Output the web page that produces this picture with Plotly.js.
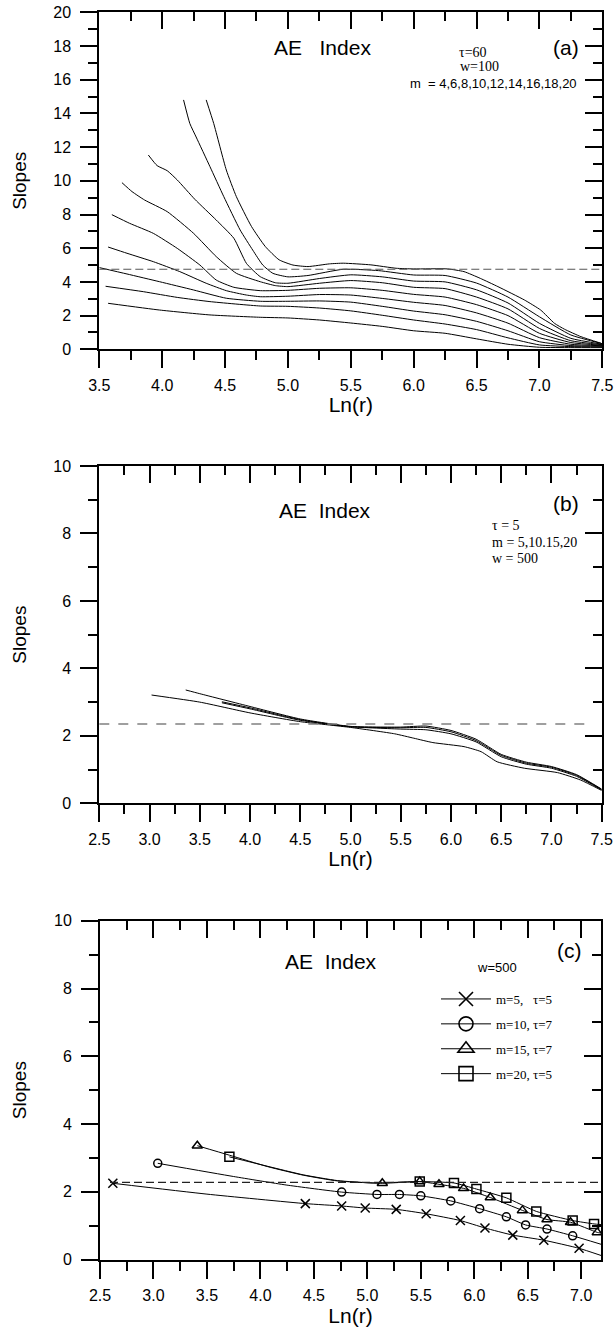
<!DOCTYPE html>
<html><head><meta charset="utf-8">
<script src="https://cdn.plot.ly/plotly-3.0.1.min.js"></script>
<style>html,body{margin:0;padding:0;background:#fff}#chart{width:614px;height:1331px}</style>
</head><body><div id="chart"></div>
<script>
// ---------- Panel (a): AE Index, tau=60, w=100 ----------
const a_m4_x  = [3.57,3.98,4.38,4.78,5.0,5.25,5.5,5.75,6.0,6.25,6.5,6.75,7.0,7.25,7.5];
const a_m4_y  = [2.73,2.33,2.04,1.90,1.86,1.74,1.56,1.36,1.10,0.95,0.62,0.30,0.12,0.10,0.10];
const a_m6_x  = [3.55,3.85,4.12,4.38,4.78,5.0,5.25,5.5,5.75,6.0,6.25,6.5,6.75,7.0,7.25,7.5];
const a_m6_y  = [3.74,3.42,3.08,2.83,2.57,2.55,2.45,2.28,2.02,1.74,1.50,1.17,0.68,0.26,0.16,0.14];
const a_m8_x  = [3.5,3.72,3.98,4.25,4.51,4.78,5.0,5.25,5.5,5.75,6.0,6.25,6.5,6.75,7.0,7.25,7.5];
const a_m8_y  = [4.85,4.47,4.01,3.52,3.03,2.85,2.85,2.87,2.80,2.55,2.27,2.05,1.66,1.10,0.45,0.22,0.18];
const a_m10_x = [3.57,3.72,3.93,4.14,4.35,4.51,4.67,4.78,5.0,5.25,5.5,5.75,6.0,6.25,6.5,6.75,7.0,7.25,7.5];
const a_m10_y = [6.07,5.70,5.20,4.61,3.92,3.48,3.22,3.12,3.15,3.25,3.22,3.02,2.79,2.60,2.16,1.55,0.69,0.30,0.21];
const a_m12_x = [3.6,3.74,3.93,4.12,4.3,4.43,4.57,4.78,5.0,5.25,5.5,5.75,6.0,6.25,6.5,6.75,7.0,7.25,7.5];
const a_m12_y = [7.99,7.48,6.88,5.99,5.00,4.11,3.68,3.48,3.50,3.62,3.65,3.50,3.26,3.10,2.65,2.00,0.95,0.40,0.24];
const a_m14_x = [3.68,3.76,3.86,4.04,4.25,4.43,4.59,4.78,4.9,5.0,5.25,5.5,5.75,6.0,6.25,6.5,6.75,7.0,7.25,7.5];
const a_m14_y = [9.89,9.36,8.86,8.17,6.88,5.50,4.51,4.01,3.78,3.72,3.92,4.08,3.95,3.68,3.60,3.10,2.40,1.24,0.51,0.27];
const a_m16_x = [3.89,3.96,4.04,4.12,4.26,4.43,4.57,4.67,4.78,4.9,5.0,5.25,5.5,5.75,6.0,6.25,6.5,6.75,7.0,7.25,7.5];
const a_m16_y = [11.53,10.9,10.6,10.05,8.9,7.67,6.59,5.10,4.31,3.95,3.92,4.20,4.42,4.30,4.05,4.00,3.53,2.75,1.54,0.65,0.30];
const a_m18_x = [4.17,4.22,4.27,4.38,4.49,4.62,4.72,4.8,4.88,5.0,5.16,5.44,5.72,6.0,6.25,6.5,6.75,7.0,7.25,7.5];
const a_m18_y = [14.8,13.4,12.6,10.84,9.06,7.08,5.89,5.00,4.51,4.30,4.38,4.75,4.67,4.41,4.38,3.93,3.10,1.93,0.85,0.33];
const a_m20_x = [4.35,4.41,4.51,4.59,4.71,4.82,4.93,5.04,5.16,5.33,5.44,5.66,5.86,6.0,6.27,6.4,6.53,6.67,6.88,7.01,7.12,7.2,7.33,7.49];
const a_m20_y = [14.8,13.4,10.64,9.06,7.29,6.10,5.31,5.00,4.91,5.07,5.11,5.01,4.81,4.77,4.77,4.61,4.21,3.72,2.93,2.33,1.54,1.19,0.75,0.36];
const a_ref = 4.75;

// ---------- Panel (b): AE Index, tau=5, w=500 ----------
const b_m5_x  = [3.02,3.5,4.0,4.5,5.0,5.44,5.63,5.82,6.13,6.3,6.46,6.73,7.06,7.29,7.5];
const b_m5_y  = [3.21,3.00,2.68,2.42,2.25,2.06,1.93,1.80,1.68,1.53,1.23,1.04,0.91,0.69,0.38];
const b_m10_x = [3.72,4.0,4.5,5.0,5.5,5.75,6.0,6.25,6.5,6.75,7.0,7.25,7.5];
const b_m10_y = [2.98,2.80,2.46,2.27,2.20,2.18,2.06,1.82,1.38,1.16,1.04,0.80,0.40];
const b_m15_x = [3.72,4.0,4.5,5.0,5.5,5.75,6.0,6.25,6.5,6.75,7.0,7.25,7.5];
const b_m15_y = [3.01,2.83,2.48,2.27,2.24,2.25,2.12,1.86,1.42,1.19,1.07,0.83,0.41];
const b_m20_x = [3.36,3.5,4.0,4.5,5.0,5.5,5.75,6.0,6.25,6.5,6.75,7.0,7.25,7.5];
const b_m20_y = [3.36,3.25,2.87,2.50,2.28,2.26,2.29,2.16,1.90,1.45,1.22,1.09,0.85,0.42];
const b_ref = 2.35;

// ---------- Panel (c): AE Index, w=500 (markers) ----------
const c_m5_x  = [2.62,4.42,4.76,4.98,5.27,5.55,5.87,6.1,6.36,6.65,6.98];
const c_m5_y  = [2.25,1.65,1.58,1.52,1.48,1.35,1.15,0.93,0.72,0.57,0.33];
const c_m10_x = [3.04,4.76,5.09,5.3,5.5,5.78,6.05,6.3,6.48,6.68,6.92];
const c_m10_y = [2.84,1.99,1.92,1.92,1.88,1.73,1.50,1.26,1.02,0.90,0.70];
const c_m15_x = [3.41,5.14,5.49,5.67,5.9,6.15,6.45,6.68,6.9,7.15];
const c_m15_y = [3.36,2.25,2.30,2.22,2.10,1.83,1.45,1.18,1.10,0.80];
const c_m20_x = [3.71,5.49,5.81,6.02,6.3,6.58,6.92,7.12];
const c_m20_y = [3.03,2.30,2.26,2.08,1.82,1.42,1.15,1.05];
// fitted curves drawn through the markers
const c_m5_lx  = [2.62,3.5,4.42,4.76,4.98,5.27,5.55,5.87,6.1,6.36,6.65,6.98,7.185];
const c_m5_ly  = [2.25,1.93,1.65,1.58,1.52,1.48,1.35,1.15,0.93,0.72,0.57,0.33,0.12];
const c_m10_lx = [3.04,3.75,4.24,4.76,5.09,5.3,5.5,5.78,6.05,6.3,6.48,6.68,6.92,7.185];
const c_m10_ly = [2.84,2.45,2.20,1.99,1.92,1.92,1.88,1.73,1.50,1.26,1.02,0.90,0.70,0.45];
const c_m15_lx = [3.41,3.71,4.07,4.4,4.72,5.14,5.49,5.67,5.9,6.15,6.45,6.68,6.9,7.15,7.185];
const c_m15_ly = [3.36,3.08,2.74,2.49,2.32,2.25,2.30,2.22,2.10,1.83,1.45,1.18,1.10,0.80,0.78];
const c_m20_lx = [3.71,4.07,4.4,4.72,5.05,5.49,5.81,6.02,6.3,6.58,6.92,7.12,7.185];
const c_m20_ly = [3.03,2.75,2.50,2.33,2.26,2.30,2.26,2.08,1.82,1.42,1.15,1.05,1.03];
const c_ref = 2.28;
const c_names = ['m=5,\u00a0\u00a0 \u03c4=5','m=10, \u03c4=7','m=15, \u03c4=7','m=20, \u03c4=5'];
const c_symbols = ['x-thin-open','circle-open','triangle-up-open','square-open'];

// ---------- layout helpers ----------
const W = 614, H = 1331;
const SANS = 'Liberation Sans, Arial, sans-serif';
const SERIF = 'Liberation Serif, Times New Roman, serif';
const xd = (l, r) => [l / W, r / W];
const yd = (t, b) => [1 - b / H, 1 - t / H];
const base = {showline:true, linewidth:2, linecolor:'#000', ticklen:17, tickwidth:2, tickcolor:'#000',
  showgrid:false, zeroline:false, fixedrange:true, tickfont:{family:SANS, size:16, color:'#000'}};

function xBottom(domain, range, anchor) {
  return Object.assign({}, base, {domain, range, anchor, side:'bottom', ticks:'outside',
    tick0:2.5, dtick:0.5, tickformat:'.1f', ticklabelstandoff:3,
    minor:{dtick:0.25, ticks:'outside', ticklen:9, tickwidth:2, tickcolor:'#000'},
    title:{text:'Ln(r)', font:{family:SANS, size:21, color:'#000'}, standoff:3}});
}
function xTop(over, range, anchor) {
  return Object.assign({}, base, {overlaying:over, range, anchor, side:'top', ticks:'inside',
    tick0:2.5, dtick:0.5, showticklabels:false,
    minor:{dtick:0.25, ticks:'inside', ticklen:9, tickwidth:2, tickcolor:'#000'}});
}
function yLeft(domain, range, anchor, dtick) {
  return Object.assign({}, base, {domain, range, anchor, side:'left', ticks:'outside',
    tick0:0, dtick:dtick, ticklabelstandoff:6,
    minor:{dtick:dtick/2, ticks:'outside', ticklen:9, tickwidth:2, tickcolor:'#000'},
    title:{text:'Slopes', font:{family:SANS, size:19, color:'#000'}, standoff:22}});
}
function yRight(over, range, anchor, dtick) {
  return Object.assign({}, base, {overlaying:over, range, anchor, side:'right', ticks:'inside',
    tick0:0, dtick:dtick, showticklabels:false,
    minor:{dtick:dtick/2, ticks:'inside', ticklen:9, tickwidth:2, tickcolor:'#000'}});
}

const traces = [];
function curve(x, y, xa, ya) {
  traces.push({x, y, xaxis:xa, yaxis:ya, mode:'lines', showlegend:false, hoverinfo:'skip',
    line:{color:'#000', width:1, shape:'spline', smoothing:0.5}});
}
[[a_m4_x,a_m4_y],[a_m6_x,a_m6_y],[a_m8_x,a_m8_y],[a_m10_x,a_m10_y],[a_m12_x,a_m12_y],
 [a_m14_x,a_m14_y],[a_m16_x,a_m16_y],[a_m18_x,a_m18_y],[a_m20_x,a_m20_y]].forEach(s => curve(s[0], s[1], 'x', 'y'));
[[b_m5_x,b_m5_y],[b_m10_x,b_m10_y],[b_m15_x,b_m15_y],[b_m20_x,b_m20_y]].forEach(s => curve(s[0], s[1], 'x3', 'y3'));

[[c_m5_lx,c_m5_ly],[c_m10_lx,c_m10_ly],[c_m15_lx,c_m15_ly],[c_m20_lx,c_m20_ly]].forEach(s => curve(s[0], s[1], 'x5', 'y5'));
const cSeries = [[c_m5_x,c_m5_y],[c_m10_x,c_m10_y],[c_m15_x,c_m15_y],[c_m20_x,c_m20_y]];
const cSizes = [9, 8, 9, 9];
cSeries.forEach((s, i) => {
  traces.push({x:s[0], y:s[1], xaxis:'x5', yaxis:'y5', mode:'markers', showlegend:false, hoverinfo:'skip',
    cliponaxis:false,
    marker:{symbol:c_symbols[i], size:cSizes[i], color:'#000', line:{width:1.5, color:'#000'}}});
});
// legend-only entries (bigger symbols, as in the original key)
c_names.forEach((n, i) => {
  traces.push({x:[null], y:[null], xaxis:'x5', yaxis:'y5', mode:'lines+markers', name:n,
    legendgroup:'g'+i, showlegend:true, hoverinfo:'skip',
    line:{color:'#000', width:1},
    marker:{symbol:c_symbols[i], size:14, color:'#000', line:{width:1.6, color:'#000'}}});
});
// empty traces so the mirrored (top / right) axes are drawn
[['x2','y2'],['x4','y4'],['x6','y6']].forEach(p => traces.push({x:[], y:[], xaxis:p[0], yaxis:p[1], showlegend:false, hoverinfo:'skip'}));

const rangeA = [3.5, 7.5], rangeB = [2.5, 7.5], rangeC = [2.5, 7.185];
const layout = {
  width:W, height:H, margin:{l:0, r:0, t:0, b:0}, paper_bgcolor:'#fff', plot_bgcolor:'#fff',
  font:{family:SANS, color:'#000'}, showlegend:true, hovermode:false,
  xaxis:  xBottom(xd(99.3, 602.3), rangeA, 'y'),
  xaxis2: xTop('x', rangeA, 'y2'),
  yaxis:  yLeft(yd(12.3, 349.3), [0, 20], 'x', 2),
  yaxis2: yRight('y', [0, 20], 'x2', 2),
  xaxis3: xBottom(xd(99.3, 601.7), rangeB, 'y3'),
  xaxis4: xTop('x3', rangeB, 'y4'),
  yaxis3: yLeft(yd(466, 803.3), [0, 10], 'x3', 2),
  yaxis4: yRight('y3', [0, 10], 'x4', 2),
  xaxis5: xBottom(xd(100, 601), rangeC, 'y5'),
  xaxis6: xTop('x5', rangeC, 'y6'),
  yaxis5: yLeft(yd(920.8, 1259.5), [0, 10], 'x5', 2),
  yaxis6: yRight('y5', [0, 10], 'x6', 2),
  shapes: [
    {type:'line', xref:'x domain', yref:'y', x0:0, x1:1, y0:a_ref, y1:a_ref, line:{color:'#555', width:1.2, dash:'8px,4px'}},
    {type:'line', xref:'x3 domain', yref:'y3', x0:0, x1:0.98, y0:b_ref, y1:b_ref, line:{color:'#808080', width:1.5, dash:'10px,9px'}},
    {type:'line', xref:'x5 domain', yref:'y5', x0:0.02, x1:1, y0:c_ref, y1:c_ref, line:{color:'#222', width:1.2, dash:'8px,4px'}}
  ],
  legend:{x:436/W, y:1-984/H, xanchor:'left', yanchor:'top', bgcolor:'rgba(0,0,0,0)',
    font:{family:SERIF, size:13, color:'#000'}, itemwidth:50, traceorder:'grouped', tracegroupgap:5},
  annotations: []
};
function note(text, px, py, size, family, xanchor) {
  layout.annotations.push({text, xref:'paper', yref:'paper', x:px / W, y:1 - py / H,
    xanchor:xanchor || 'center', yanchor:'middle', showarrow:false,
    font:{family:family || SANS, size:size, color:'#000'}});
}
note('AE\u00a0\u00a0\u00a0Index', 322, 47, 21);
note('(a)', 566, 47, 21);
note('\u03c4=60', 473, 52, 14, SERIF);
note('w=100', 479, 67, 14, SERIF);
note('m\u00a0\u00a0= 4,6,8,10,12,14,16,18,20', 579, 83.5, 13, SANS, 'right');

note('AE\u00a0\u00a0Index', 325, 510, 21);
note('(b)', 566, 504, 21);
note('\u03c4 = 5', 490, 525, 14, SERIF, 'left');
note('m = 5,10.15,20', 490, 542, 14, SERIF, 'left');
note('w = 500', 490, 558.5, 14, SERIF, 'left');

note('AE\u00a0\u00a0Index', 331, 962, 21);
note('(c)', 569, 950, 21);
note('w=500', 497, 967, 13);

Plotly.newPlot('chart', traces, layout, {staticPlot:true, displayModeBar:false});
</script></body></html>
